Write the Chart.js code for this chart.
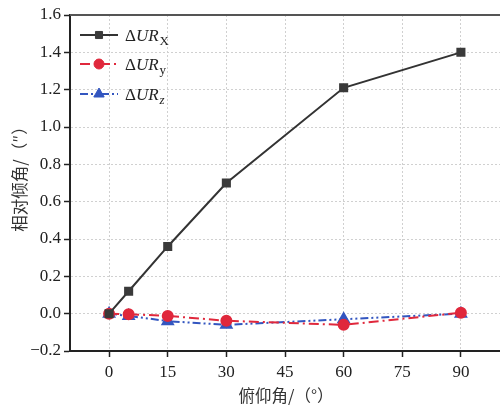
<!DOCTYPE html>
<html>
<head>
<meta charset="utf-8">
<script src="https://cdn.jsdelivr.net/npm/chart.js@4/dist/chart.umd.min.js"></script>
<style>
  html, body { margin: 0; padding: 0; background: #fff; }
  #wrap { width: 500px; height: 409px; position: relative; }
</style>
</head>
<body>
<div id="wrap"><canvas id="c"></canvas></div>
<script>
// Pitch angle (degrees) at which the relative tilt was measured
const pitchAngles = [0, 5, 15, 30, 60, 90];
// Relative tilt per axis, arc-seconds
const urX = [0, 0.12, 0.36, 0.70, 1.21, 1.40];
const urY = [0, -0.003, -0.012, -0.038, -0.060, 0.005];
const urZ = [0, -0.012, -0.040, -0.060, -0.030, 0.000];
// Axis tick positions
const xTickValues = [0, 15, 30, 45, 60, 75, 90];
const yTickValues = [-0.2, 0, 0.2, 0.4, 0.6, 0.8, 1.0, 1.2, 1.4, 1.6];
// Axis titles
const xTitle = '俯仰角/（°）';
const yTitle = '相对倾角/（″）';

const seriesNames = [
  { main: 'ΔUR', sub: 'X', subItalic: false },
  { main: 'ΔUR', sub: 'y', subItalic: false },
  { main: 'ΔUR', sub: 'z', subItalic: true }
];

const serif = '"Liberation Serif", "DejaVu Serif", serif';
const cjk = '"Noto Sans CJK SC", sans-serif';

const toPoints = vals => pitchAngles.map((a, i) => ({ x: a, y: vals[i] }));

// Frame line along the top of the plot area
const topFrame = {
  id: 'topFrame',
  afterDraw(chart) {
    const { ctx, chartArea: a } = chart;
    ctx.save();
    ctx.strokeStyle = '#555';
    ctx.lineWidth = 2;
    ctx.beginPath();
    ctx.moveTo(a.left, a.top);
    ctx.lineTo(a.right + 2, a.top);
    ctx.stroke();
    ctx.restore();
  }
};

// Axis titles, placed relative to the plot area
const axisTitles = {
  id: 'axisTitles',
  afterDraw(chart) {
    const { ctx, chartArea: a } = chart;
    ctx.save();
    ctx.fillStyle = '#333';
    ctx.font = '16.5px ' + cjk;
    ctx.textAlign = 'center';
    ctx.textBaseline = 'middle';
    ctx.fillText(xTitle, a.left + 216, a.bottom + 45);
    ctx.translate(20, a.top + 160);
    ctx.rotate(-Math.PI / 2);
    ctx.fillText(yTitle, 0, 0);
    ctx.restore();
  }
};

// Legend with a line sample plus marker for each series
const lineLegend = {
  id: 'lineLegend',
  afterDraw(chart) {
    const { ctx } = chart;
    const x0 = 80, x1 = 118, tx = 125;
    const rows = [35, 64, 94];
    chart.data.datasets.forEach((ds, i) => {
      const y = rows[i];
      ctx.save();
      ctx.strokeStyle = ds.borderColor;
      ctx.lineWidth = ds.borderWidth;
      ctx.setLineDash(ds.borderDash || []);
      ctx.beginPath();
      ctx.moveTo(x0, y);
      ctx.lineTo(x1, y);
      ctx.stroke();
      ctx.setLineDash([]);
      ctx.fillStyle = ds.pointBackgroundColor;
      ctx.strokeStyle = ds.pointBorderColor;
      ctx.lineWidth = 1;
      Chart.helpers.drawPoint(ctx, {
        pointStyle: ds.pointStyle,
        radius: ds.pointRadius,
        borderWidth: 1,
        rotation: 0
      }, (x0 + x1) / 2, y);
      ctx.restore();

      const n = seriesNames[i];
      ctx.save();
      ctx.fillStyle = '#222';
      ctx.textBaseline = 'alphabetic';
      ctx.font = '17px ' + serif;
      ctx.fillText('Δ', tx, y + 6);
      let w = ctx.measureText('Δ').width;
      ctx.font = 'italic 17px ' + serif;
      ctx.fillText('UR', tx + w, y + 6);
      w += ctx.measureText('UR').width;
      ctx.font = (n.subItalic ? 'italic ' : '') + '13px ' + serif;
      ctx.fillText(n.sub, tx + w + 1, y + 10);
      ctx.restore();
    });
  }
};

const gridStyle = {
  color: '#d0d0d0',
  lineWidth: 1,
  tickColor: '#222',
  tickLength: 6,
  tickWidth: 1.5,
  tickBorderDash: []
};

new Chart(document.getElementById('c'), {
  type: 'line',
  data: {
    datasets: [
      {
        label: 'ΔURX',
        data: toPoints(urX),
        borderColor: '#333333',
        borderWidth: 2,
        pointStyle: 'rect',
        pointRadius: 5,
        pointBackgroundColor: '#3a3a3a',
        pointBorderColor: '#3a3a3a',
        tension: 0
      },
      {
        label: 'ΔURy',
        data: toPoints(urY),
        borderColor: '#e0283c',
        borderWidth: 2,
        borderDash: [10, 4, 2, 4],
        pointStyle: 'circle',
        pointRadius: 5,
        pointBackgroundColor: '#e0283c',
        pointBorderColor: '#e0283c',
        tension: 0
      },
      {
        label: 'ΔURz',
        data: toPoints(urZ),
        borderColor: '#3356c0',
        borderWidth: 2,
        borderDash: [8, 3, 2, 3, 2, 3],
        pointStyle: 'triangle',
        pointRadius: 6,
        pointBackgroundColor: '#3356c0',
        pointBorderColor: '#3356c0',
        tension: 0
      }
    ]
  },
  options: {
    responsive: true,
    maintainAspectRatio: false,
    animation: false,
    layout: { autoPadding: false, padding: { top: 15, right: 0, left: 0, bottom: 0 } },
    plugins: {
      legend: { display: false },
      tooltip: { enabled: false }
    },
    scales: {
      x: {
        type: 'linear',
        min: -10,
        max: 100,
        afterBuildTicks(scale) { scale.ticks = xTickValues.map(v => ({ value: v })); },
        afterFit(scale) {
          scale.height = 58;
          scale.paddingLeft = 0;
          scale.paddingRight = 0;
        },
        grid: gridStyle,
        border: { display: true, color: '#222', width: 2, dash: [2, 2] },
        ticks: {
          color: '#222',
          font: { family: serif, size: 17 },
          padding: 5,
          maxRotation: 0,
          callback: v => String(v)
        }
      },
      y: {
        type: 'linear',
        min: -0.2,
        max: 1.6,
        afterBuildTicks(scale) { scale.ticks = yTickValues.map(v => ({ value: v })); },
        afterFit(scale) {
          scale.width = 70;
          scale.paddingTop = 0;
          scale.paddingBottom = 0;
        },
        grid: gridStyle,
        border: { display: true, color: '#222', width: 2, dash: [2, 2] },
        ticks: {
          color: '#222',
          font: { family: serif, size: 17 },
          padding: 3,
          callback: v => v.toFixed(1).replace('-', '−')
        }
      }
    }
  },
  plugins: [topFrame, axisTitles, lineLegend]
});
</script>
</body>
</html>
